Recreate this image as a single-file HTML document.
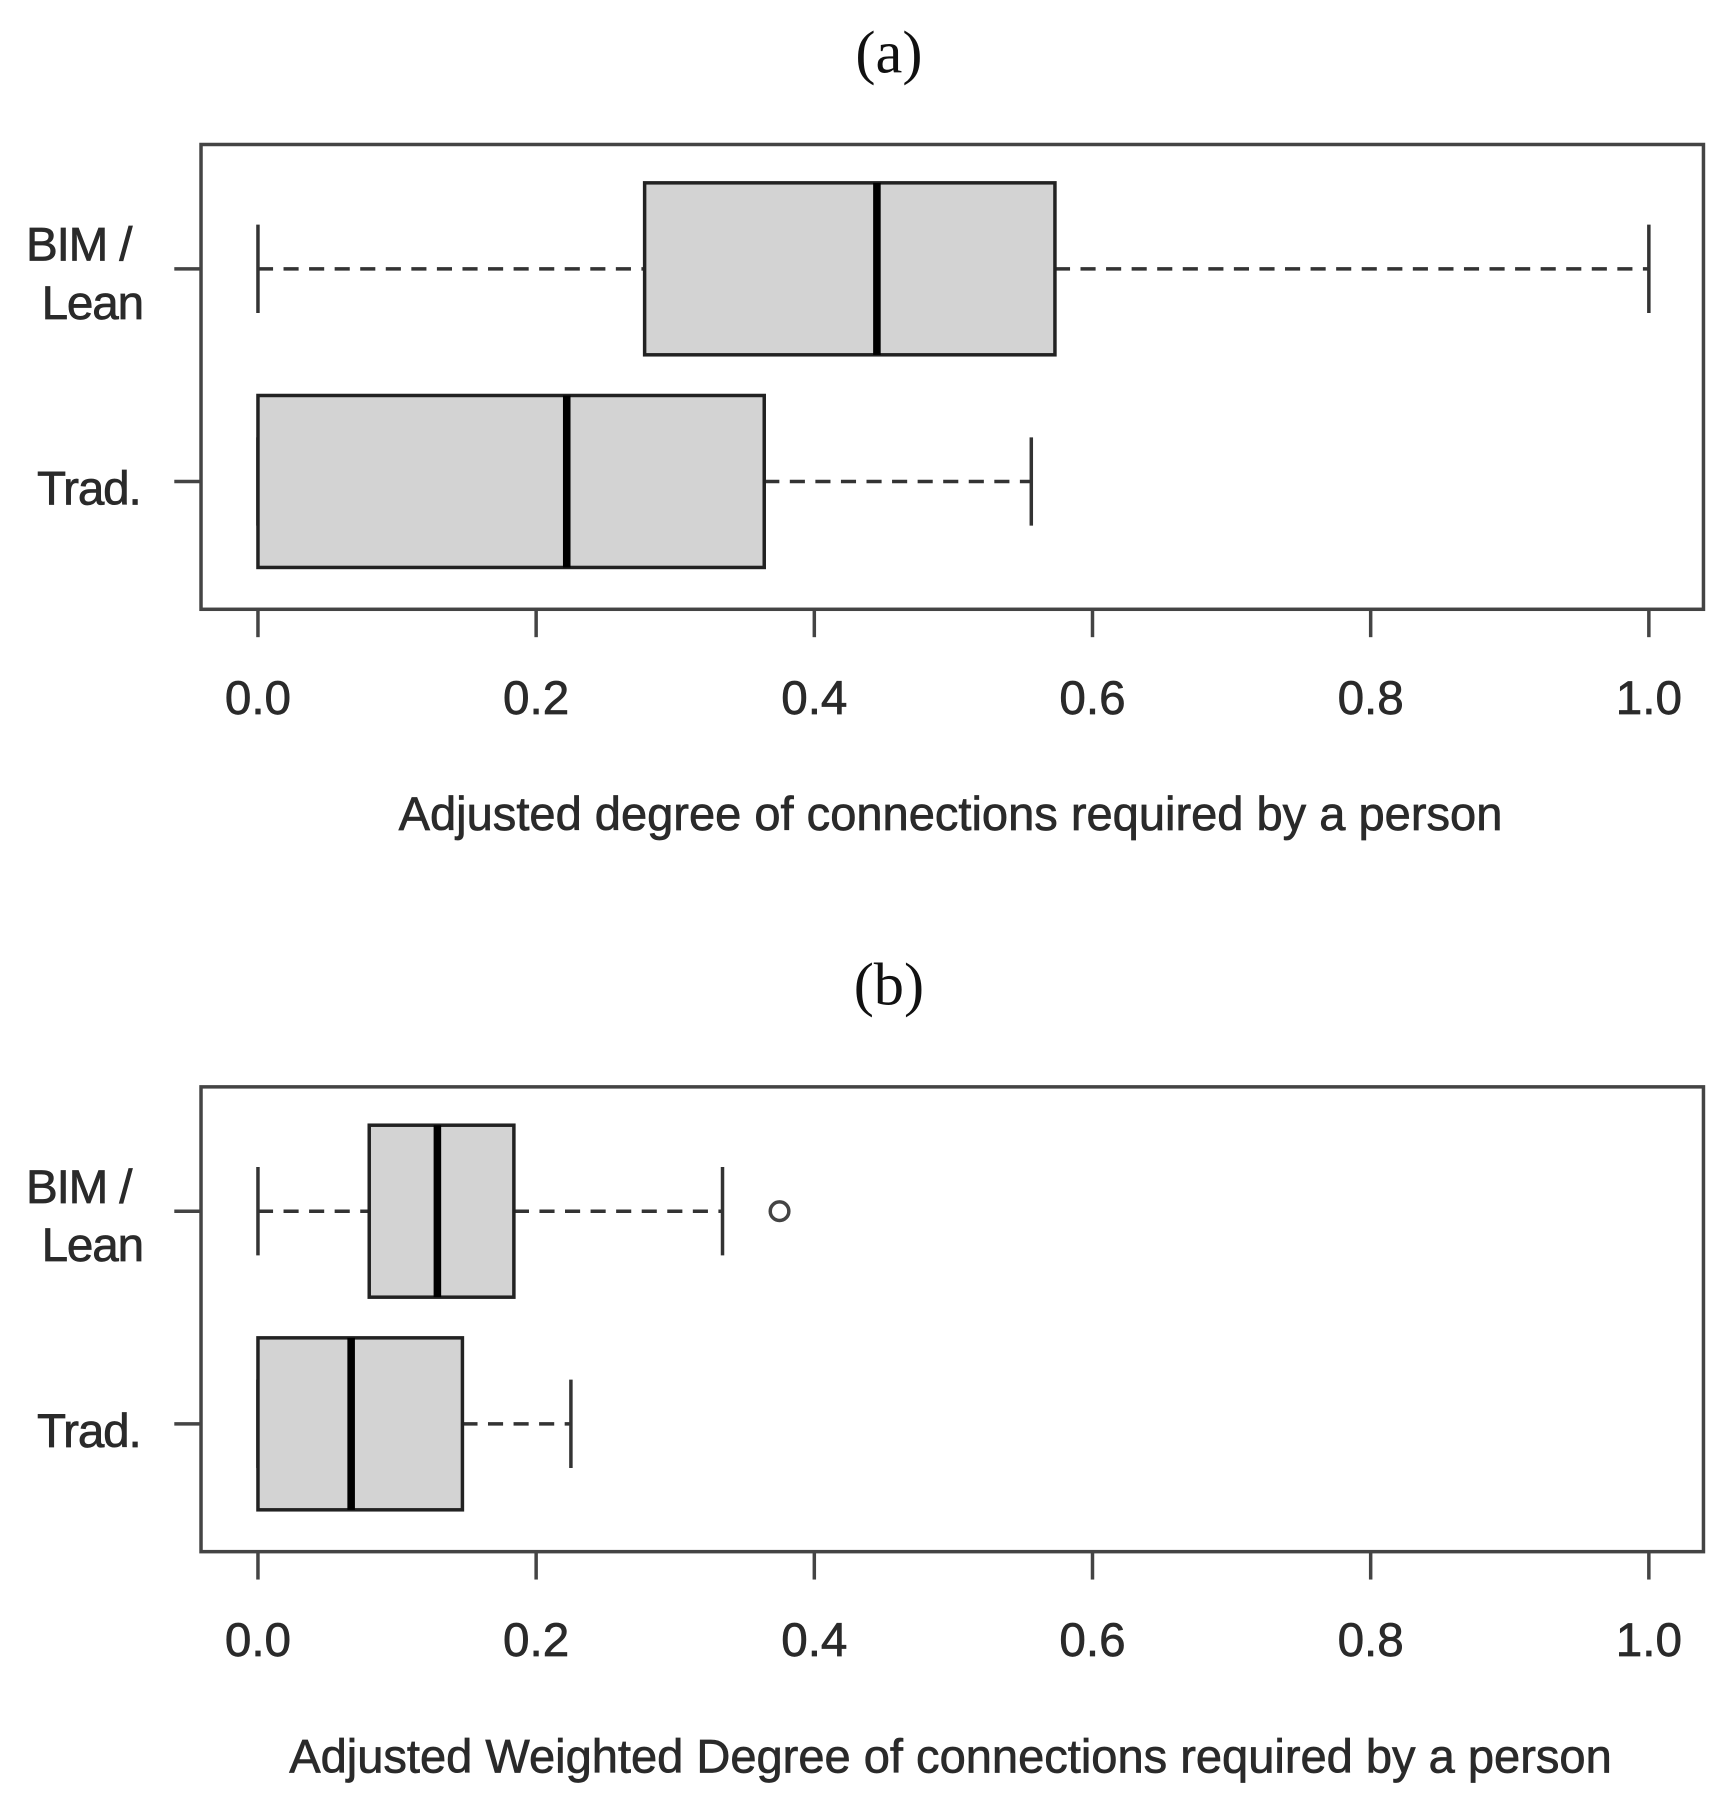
<!DOCTYPE html>
<html><head><meta charset="utf-8"><style>
html,body{margin:0;padding:0;background:#fff;}
svg{display:block;}
</style></head><body>
<svg id="chart" width="1736" height="1817" viewBox="0 0 1494 1563" xmlns="http://www.w3.org/2000/svg"></svg>
<script>
const categories = ["BIM /\nLean", "Trad."];
const ticks = [0.0, 0.2, 0.4, 0.6, 0.8, 1.0];
const tickLabels = ["0.0", "0.2", "0.4", "0.6", "0.8", "1.0"];
// panel a: [lowWhisker, q1, median, q3, highWhisker]
const statsA_bim = [0, 0.278, 0.445, 0.573, 1.0];
const statsA_trad = [0, 0, 0.222, 0.364, 0.556];
const outliersA_bim = [];
const outliersA_trad = [];
// panel b
const statsB_bim = [0, 0.080, 0.129, 0.184, 0.334];
const statsB_trad = [0, 0, 0.067, 0.147, 0.225];
const outliersB_bim = [0.375];
const outliersB_trad = [];

const NS = "http://www.w3.org/2000/svg";
const svg = document.getElementById("chart");
function el(tag, attrs, parent) {
  const e = document.createElementNS(NS, tag);
  for (const k in attrs) e.setAttribute(k, attrs[k]);
  (parent || svg).appendChild(e);
  return e;
}
const X0 = 222, X1 = 1419;
function xs(v) { return X0 + (X1 - X0) * v; }
const TXT = "#2a2a2a";

function panel(id, title, axisTitle, top, stats, outs, titleY, axisX) {
  const g = el("g", {});
  
  
  const t = el("text", {x: 765, y: titleY, "text-anchor": "middle", "font-family": "Liberation Serif, serif", "font-size": 52, fill: "#111"}, g);
  t.textContent = title;
  
  
  const frame = el("rect", {x: 173, y: top, width: 1293, height: 400, fill: "none", stroke: "#444", "stroke-width": 3}, g);
  
  
  const bottom = top + 400;
  ticks.forEach((v, i) => {
    const tk = el("line", {x1: xs(v), x2: xs(v), y1: bottom, y2: bottom + 24, stroke: "#444", "stroke-width": 3}, g);
    
    
    const tl = el("text", {x: xs(v), y: bottom + 90, "text-anchor": "middle", "font-family": "Liberation Sans, sans-serif", "font-size": 41, "stroke": TXT, "stroke-width": 0.6, fill: TXT}, g);
    tl.textContent = tickLabels[i];
    
    
  });
  const at = el("text", {x: axisX, y: bottom + 190, "text-anchor": "middle", "font-family": "Liberation Sans, sans-serif", "font-size": 40.5, "stroke": TXT, "stroke-width": 0.6, fill: TXT}, g);
  at.textContent = axisTitle;
  
  
  const rows = [top + 107, top + 290];
  categories.forEach((c, i) => {
    const y = rows[i];
    const s = stats[i];
    const yt = el("line", {x1: 150, x2: 173, y1: y, y2: y, stroke: "#444", "stroke-width": 3}, g);
    
    
    const lines = c.split("\n");
    lines.forEach((ln, j) => {
      const ty = lines.length === 1 ? y + 20 : y - 7 + j * 50;
      const lt = el("text", {x: lines.length === 1 ? 121 : (j === 0 ? 113 : 123), y: ty, "text-anchor": "end", "font-family": "Liberation Sans, sans-serif", "font-size": 41, "stroke": TXT, "stroke-width": 0.6, fill: TXT, "letter-spacing": -1}, g);
      lt.textContent = ln;
      
      
    });
    const h = 74;
    const w1 = el("line", {x1: xs(s[0]), x2: xs(s[1]), y1: y, y2: y, stroke: "#333", "stroke-width": 3, "stroke-dasharray": "13,9"}, g);
    
    
    const w2 = el("line", {x1: xs(s[3]), x2: xs(s[4]), y1: y, y2: y, stroke: "#333", "stroke-width": 3, "stroke-dasharray": "13,9"}, g);
    
    
    [s[0], s[4]].forEach(v => {
      const cap = el("line", {x1: xs(v), x2: xs(v), y1: y - 38, y2: y + 38, stroke: "#333", "stroke-width": 3}, g);
      
      
    });
    const box = el("rect", {x: xs(s[1]), y: y - h, width: xs(s[3]) - xs(s[1]), height: 2 * h, fill: "#d3d3d3", stroke: "#222", "stroke-width": 3}, g);
    
    
    const med = el("line", {x1: xs(s[2]), x2: xs(s[2]), y1: y - h, y2: y + h, stroke: "#000", "stroke-width": 6.5}, g);
    
    
    outs[i].forEach(v => {
      const o = el("circle", {cx: xs(v), cy: y, r: 8, fill: "none", stroke: "#444", "stroke-width": 3}, g);
      
      
    });
  });
}
panel("a", "(a)", "Adjusted degree of connections required by a person", 124, [statsA_bim, statsA_trad], [outliersA_bim, outliersA_trad], 62, 818);
panel("b", "(b)", "Adjusted Weighted Degree of connections required by a person", 935, [statsB_bim, statsB_trad], [outliersB_bim, outliersB_trad], 864, 818);
</script>
</body></html>
